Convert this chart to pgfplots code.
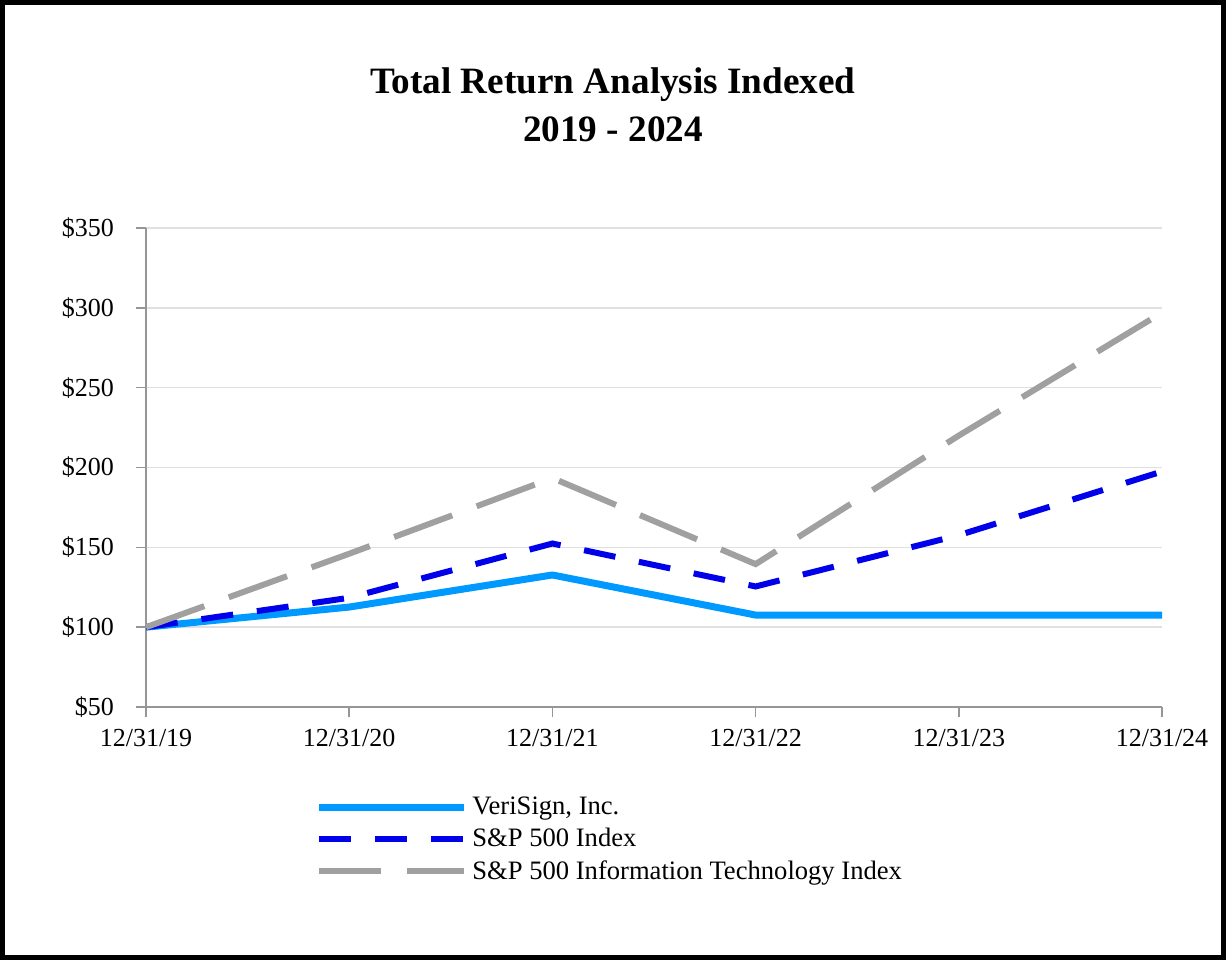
\documentclass[border=0pt]{standalone}
\usepackage{fontspec}
\setmainfont{Liberation Serif}
\usepackage{pgfplots}
\pgfplotsset{compat=1.18}
\definecolor{vrsn}{RGB}{0,153,255}
\definecolor{spblue}{RGB}{0,0,235}
\definecolor{itgray}{RGB}{160,160,160}
\definecolor{axgray}{RGB}{150,150,150}
\definecolor{gridgray}{RGB}{224,224,224}
\begin{document}
\begin{tikzpicture}
\draw[line width=2.5pt,black] (1.25pt,-1.25pt) rectangle (611.75pt,-478.75pt);
\node[font=\fontsize{18.6}{22}\selectfont\bfseries] at (306.5pt,-42.5pt) {Total Return Analysis Indexed};
\node[font=\fontsize{18.6}{22}\selectfont\bfseries] at (306.5pt,-64.5pt) {2019 - 2024};
\begin{axis}[
  at={(73pt,-353.5pt)}, anchor=origin,
  scale only axis, width=508pt, height=239.5pt,
  xmin=0, xmax=5, ymin=50, ymax=350,
  axis x line*=bottom, axis y line*=left,
  axis line style={axgray, line width=0.8pt},
  every tick/.style={axgray, line width=0.8pt},
  tick align=outside, major tick length=5pt,
  xtick={0,1,2,3,4,5},
  xticklabels={12/31/19,12/31/20,12/31/21,12/31/22,12/31/23,12/31/24},
  ytick={50,100,150,200,250,300,350},
  yticklabels={\$50,\$100,\$150,\$200,\$250,\$300,\$350},
  ymajorgrids, grid style={gridgray, line width=0.8pt},
  tick label style={font=\fontsize{13}{15}\selectfont},
  yticklabel style={xshift=-7.5pt},
  xticklabel style={yshift=-2.5pt},
  legend style={at={(axis description cs:0.161,-0.17)}, anchor=north west,
    draw=none, font=\fontsize{13.3}{15}\selectfont, row sep=0.9pt,
    nodes={inner sep=2.2pt}},
  legend cell align=left,
  legend image code/.code={\draw[#1] (0pt,0pt) -- (72.5pt,0pt);},
  clip=false,
]
\addplot[vrsn, line width=3.5pt, line join=round] coordinates {(0,100) (1,112.6) (2,132.7) (3,107.6) (4,107.6) (5,107.6)};
\addlegendentry{VeriSign, Inc.}
\addplot[spblue, line width=3pt, dash pattern=on 16pt off 12pt] coordinates {(0,100) (1,118.4) (2,152.4) (3,125.5) (4,157.6) (5,197.5)};
\addlegendentry{S\&P 500 Index}
\addplot[itgray, line width=3pt, dash pattern=on 31pt off 13pt] coordinates {(0,100) (1,146) (2,193.4) (3,139.5) (4,220) (5,297)};
\addlegendentry{S\&P 500 Information Technology Index}
\end{axis}
\end{tikzpicture}
\end{document}
